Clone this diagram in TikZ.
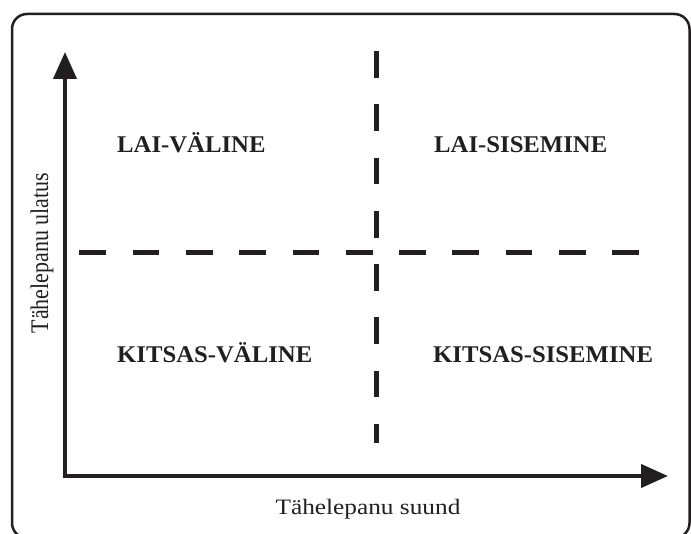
\documentclass[tikz,border=0pt]{standalone}
\usepackage{fontspec}
\setmainfont{Liberation Serif}
\usetikzlibrary{arrows.meta}
\definecolor{ink}{HTML}{231F20}
\tikzset{
  quad/.style={font=\fontsize{24}{27}\selectfont\bfseries, text=ink, anchor=base west, inner sep=0pt, xscale=1.03, transform shape},
  axlabel/.style={font=\fontsize{22}{25}\selectfont, text=ink, anchor=base, inner sep=0pt, xscale=1.15, transform shape},
  axisline/.style={line width=4pt, draw=ink, line join=miter, {Triangle[length=27pt,width=23pt]}-{Triangle[length=27pt,width=23pt]}},
  divider/.style={line width=5pt, draw=ink, dash pattern=on 26.7pt off 26.6pt},
  framebox/.style={line width=2.5pt, draw=ink, rounded corners=15pt}
}
\begin{document}
\begin{tikzpicture}[x=1pt,y=-1pt]
\useasboundingbox (0,0) rectangle (691,534);
\draw[framebox] (12,14) rectangle (689.5,538);
\coordinate (ytip) at (65,52);
\coordinate (origin) at (65,476);
\coordinate (xtip) at (668,476);
\draw[axisline] (ytip) -- (origin) -- (xtip);
\coordinate (hstart) at (79.3,252.7);
\coordinate (hend) at (640,252.7);
\coordinate (vstart) at (376,51);
\coordinate (vend) at (376,442.7);
\draw[divider] (hstart) -- (hend);
\draw[divider] (vstart) -- (vend);
\node[quad] (lv) at (117,153) {LAI-VÄLINE};
\node[quad] (ls) at (434,153) {LAI-SISEMINE};
\node[quad] (kv) at (117,363) {KITSAS-VÄLINE};
\node[quad] (ks) at (433,363) {KITSAS-SISEMINE};
\node[axlabel] (xl) at (368,514) {Tähelepanu suund};
\node[axlabel, rotate=90] (yl) at (48,253) {Tähelepanu ulatus};
\end{tikzpicture}
\end{document}
